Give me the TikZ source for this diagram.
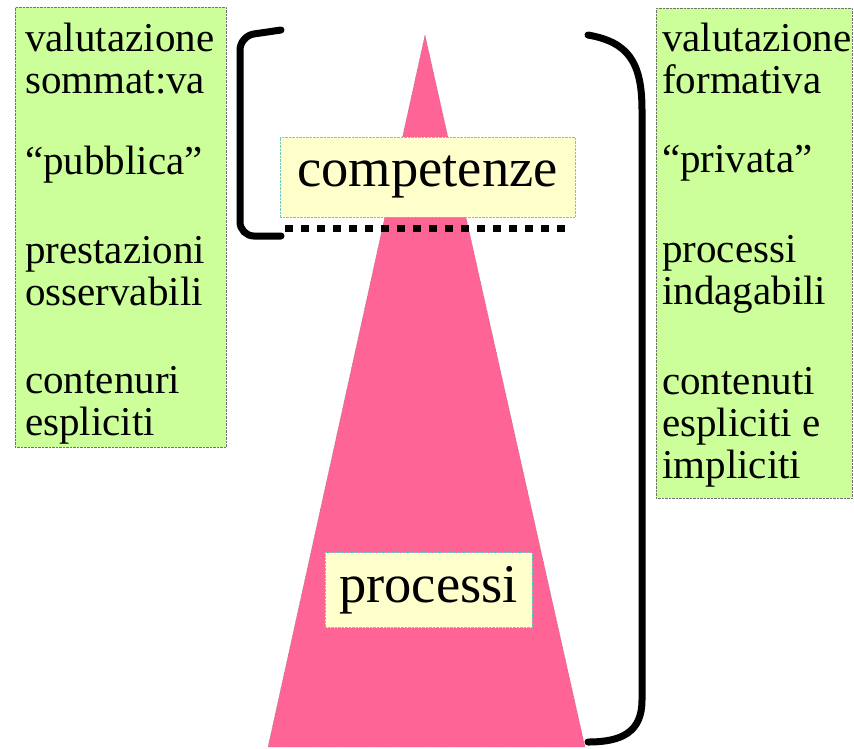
\documentclass[tikz,border=0pt]{standalone}
\usepackage{fontspec}
\setmainfont{Liberation Serif}
\usepackage{tikz}
\usetikzlibrary{positioning,calc}

\definecolor{leafgreen}{RGB}{204,255,153}
\definecolor{conepink}{RGB}{255,100,150}
\definecolor{labelyellow}{RGB}{255,255,204}
\definecolor{labeledge}{RGB}{110,200,200}

\begin{document}
\begin{tikzpicture}[x=1pt, y=-1pt,
    sidebox/.style={draw=black!55, densely dotted, fill=leafgreen, anchor=north west, inner sep=0pt},
    sidetext/.style={anchor=north west, align=left, inner sep=0pt, font=\fontsize{41}{42}\selectfont},
    levelbox/.style={draw=labeledge, densely dotted, fill=labelyellow, inner sep=0pt, font=\fontsize{54.5}{54}\selectfont},
    bracket/.style={line width=7pt, line cap=round, rounded corners=14pt},
    cut/.style={line width=7pt, dash pattern=on 8pt off 8pt}
]
    \useasboundingbox (0,0) rectangle (854,748);

    % cone
    \coordinate (apex) at (425,35);
    \coordinate (baseL) at (268,747);
    \coordinate (baseR) at (585,747);
    \fill[conepink, draw=black!60, densely dotted] (apex) -- (baseL) -- (baseR) -- cycle;

    % side columns
    \node[sidebox, minimum width=211pt, minimum height=440pt] (leftbox) at (15,7) {};
    \node[sidebox, minimum width=196pt, minimum height=490pt] (rightbox) at (656,8) {};

    \node[sidetext] (lefttext) at (25,23) {valutazione\\sommat:va\\[39pt]``pubblica''\\[47pt]prestazioni\\osservabili\\[46pt]contenuri\\espliciti};
    \node[sidetext] (righttext) at (662,23) {valutazione\\formativa\\[37pt]``privata''\\[48pt]processi\\indagabili\\[48pt]contenuti\\espliciti e\\impliciti};

    % level labels
    \node[levelbox, minimum width=295pt, minimum height=80pt] (comp) at (427.5,177) {competenze};
    \node[levelbox, minimum width=207pt, minimum height=75pt] (proc) at (428.5,590) {processi};

    % cut line under competenze
    \coordinate (cutL) at (285,228);
    \coordinate (cutR) at (568,228);
    \draw[cut] (cutL) -- (cutR);

    % brackets
    \draw[bracket] (281,30) -- (240,36) -- (240,236) -- (281,236);
    \draw[line width=7pt, line cap=round] (588,35) .. controls (628,42) and (642,62) .. (642,110)
        -- (642,700) .. controls (642,732) and (622,742) .. (588,742);
\end{tikzpicture}
\end{document}
